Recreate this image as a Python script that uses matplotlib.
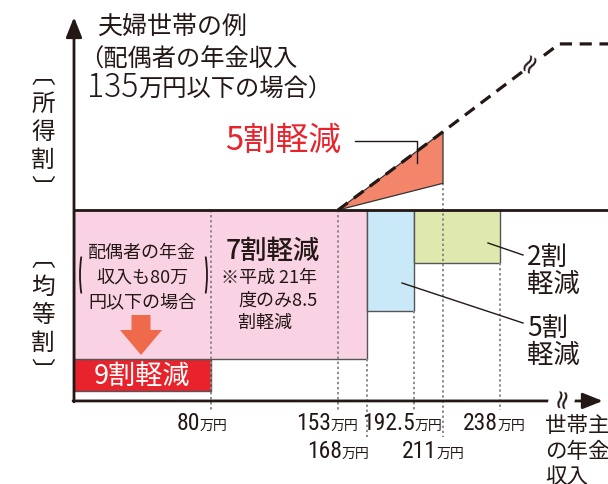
import matplotlib.pyplot as plt
import matplotlib.transforms as mtransforms
from matplotlib.patches import Arc, FancyArrow, Rectangle
import numpy as np

plt.rcParams['font.family'] = ['Noto Sans CJK JP', 'DejaVu Sans']

# 世帯主の年金収入 (万円)
tick_values = [80, 153, 168, 192.5, 211, 238]
tick_labels = ['80', '153', '168', '192.5', '211', '238']
tick_row = [0, 0, 1, 0, 1, 0]

# 均等割 (full amount = 100) and its reduced bands
flat_level = 100
band_names = ['9割軽減', '7割軽減', '5割軽減', '2割軽減']
band_left = [0, 0, 168, 192.5]
band_right = [80, 168, 192.5, 238]
band_bottom = [5, 22, 47, 72]
band_top = [22, 100, 100, 100]
band_colors = ['#e8232c', '#f9d3e4', '#c9e9f8', '#dfe9ae']

# 所得割 line and the 5割 reduced part
income_x = [153, 211, 272, 300]
income_y = [100, 141, 187, 187]
cut_x = [153, 211, 211]
cut_y = [100, 141, 114]

# top of each dotted guide
guide_top = [100, 100, 22, 47, 114, 72]

dark = '#231815'
red = '#e8232c'

# schematic (non-uniform) income axis
knot_val = [-40, 0, 80, 153, 168, 192.5, 211, 238, 300]
knot_px = [0, 74, 211, 338, 367, 414, 443, 500, 608]


def fwd(v):
    return np.interp(v, knot_val, knot_px)


def inv(p):
    return np.interp(p, knot_px, knot_val)


fig = plt.figure(figsize=(6.08, 4.84), dpi=100)
ax = fig.add_axes([0, 0, 1, 1])
ax.set_xscale('function', functions=(fwd, inv))
ax.set_xlim(-40, 300)
ax.set_ylim(-43.5, 210)
ax.axis('off')

# pixel coords, origin top-left (for labels and decorations)
P = mtransforms.Affine2D().scale(1 / 100, -1 / 100).translate(0, 4.84) + fig.dpi_scale_trans
XP = mtransforms.blended_transform_factory(ax.transData, P)

# bands
for l, r, b, t, c in zip(band_left, band_right, band_bottom, band_top, band_colors):
    ax.add_patch(Rectangle((l, b), r - l, t - b, fc=c, ec='#555555', lw=1, zorder=1))

# dotted guides
guide_bottom = [-4.7, -18.8]
for v, top, row in zip(tick_values, guide_top, tick_row):
    ax.plot([v, v], [top, guide_bottom[row]], color='#8a8a8a', lw=1.4,
            ls=(0, (1.2, 1.4)), zorder=2)

# 所得割 5割 reduction
ax.fill(cut_x, cut_y, fc='#f3866a', ec='#333333', lw=0.9, zorder=3)
ax.plot(income_x, income_y, color=dark, lw=2.3, ls=(0, (3.8, 2.4)), zorder=4)

# flat line and axes
ax.plot([0, 300], [flat_level, flat_level], color=dark, lw=2, zorder=4)
arrow_kw = dict(arrowstyle='-|>,head_length=0.55,head_width=0.22', color=dark, lw=2,
                mutation_scale=22, shrinkA=0, shrinkB=0)
ax.annotate('', xy=(0, 201), xytext=(0, -0.5), arrowprops=arrow_kw, zorder=5)
ax.annotate('', xy=(297, 0), xytext=(-0.5, 0), arrowprops=arrow_kw, zorder=5)

# break marks
for bx, by, rot in [(562, 398, 80), (530, 63, 60)]:
    ax.text(bx, by, '≈', transform=P, rotation=rot, fontsize=19, ha='center', va='center',
            color=dark, family='DejaVu Sans', zorder=6,
            bbox=dict(fc='white', ec='none', pad=0.0))

# tick labels
row_base = [430, 458]
label_off = [-11, -7, -25, 1, -6, -2]
for v, lab, row, off in zip(tick_values, tick_labels, tick_row, label_off):
    t = ax.annotate(lab, xy=(v, row_base[row]), xycoords=XP, xytext=(off * 0.72, 0),
                    textcoords='offset points', ha='right', va='baseline', fontsize=17,
                    color=dark, family=['Roboto Condensed', 'DejaVu Sans'])
    ax.annotate('万円', xy=(1, row_base[row]), xycoords=(t, P), ha='left',
                va='baseline', fontsize=10, color=dark)

# axis titles
for i, s in enumerate(['世帯主', 'の年金', '収入']):
    ax.text(545, 426 + i * 25.5, s, transform=P, fontsize=15.5, ha='left', va='center', color=dark)

ax.text(97, 27, '夫婦世帯の例', transform=P, fontsize=18, ha='left', va='center', color=dark)
ax.text(79, 60, '（配偶者の年金収入', transform=P, fontsize=17.5, ha='left', va='center', color=dark)
t135 = ax.text(87, 97, '135', transform=P, fontsize=23, ha='left', va='baseline', color=dark,
               fontweight='light')
ax.annotate('万円以下の場合）', xy=(1, 97), xycoords=(t135, P), ha='left', va='baseline',
            fontsize=17.5, color=dark)

for chars, y0 in [('︹所得割︺', 76), ('︹均等割︺', 259)]:
    for i, ch in enumerate(chars):
        ax.text(43, y0 + i * 28.3, ch, transform=P, fontsize=17, ha='center',
                va='center', color=dark)

# band labels
ax.text(225, 141, '5割軽減', transform=P, fontsize=23.5, ha='left', va='center', color=red)
ax.plot([355, 417, 417], [141, 141, 163], transform=P, color=dark, lw=1, zorder=6)

ax.text(226, 251, band_names[1], transform=P, fontsize=19, fontweight='medium', ha='left',
        va='center', color=dark)
ax.text(221, 278, '※平成 21年', transform=P, fontsize=13, ha='left', va='center', color=dark)
ax.text(238, 301, '度のみ8.5', transform=P, fontsize=13, ha='left', va='center', color=dark)
ax.text(238, 323, '割軽減', transform=P, fontsize=13, ha='left', va='center', color=dark)

for i, s in enumerate(['配偶者の年金', '収入も80万', '円以下の場合']):
    ax.text(142, 253 + i * 24.5, s, transform=P, fontsize=13, ha='center', va='center',
            color=dark)
ax.add_patch(Arc((92, 275), 24, 80, theta1=120, theta2=240, transform=P, color=dark, lw=1.3))
ax.add_patch(Arc((195, 275), 24, 80, theta1=-60, theta2=60, transform=P, color=dark, lw=1.3))
ax.add_patch(FancyArrow(141, 315, 0, 40, width=19, head_width=42, head_length=25,
                        length_includes_head=True, transform=P, color='#ef6a4b', lw=0))
ax.text(142, 376, band_names[0], transform=P, fontsize=19.5, ha='center', va='center',
        color='white', zorder=6)

ax.text(527, 257, '2割', transform=P, fontsize=19, ha='left', va='center', color=dark)
ax.text(527, 284, '軽減', transform=P, fontsize=19, ha='left', va='center', color=dark)
ax.plot([488, 523], [243, 255], transform=P, color=dark, lw=1, zorder=6)
ax.text(527, 328, '5割', transform=P, fontsize=19, ha='left', va='center', color=dark)
ax.text(527, 355, '軽減', transform=P, fontsize=19, ha='left', va='center', color=dark)
ax.plot([402, 523], [283, 323], transform=P, color=dark, lw=1, zorder=6)

fig.savefig('out.png', dpi=100)
